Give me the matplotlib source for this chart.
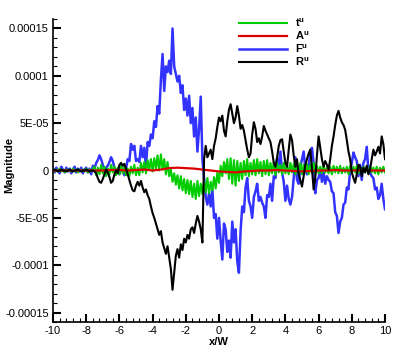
import numpy as np
import matplotlib
matplotlib.use("Agg")
import matplotlib.pyplot as plt
from matplotlib.ticker import MultipleLocator

plt.rcParams['font.family'] = ['Liberation Sans', 'DejaVu Sans']
plt.rcParams['axes.unicode_minus'] = False
plt.rcParams['mathtext.fontset'] = 'custom'
plt.rcParams['mathtext.rm'] = 'Liberation Sans:bold'
plt.rcParams['mathtext.bf'] = 'Liberation Sans:bold'

# values in units of 1e-5, sampled every 0.1 in x/W from -10 to 10
F_u = [0.2, -0.2, 0.3, 0.0, -0.3, 0.4, 0.1, -0.2, 0.3, -0.1,
       0.2, -0.3, 0.1, 0.4, -0.2, 0.2, -0.1, 0.3, -0.3, 0.1,
       0.3, -0.2, 0.2, -0.4, 0.5,
       0.2, 0.8, 1.1, 1.6, 1.2, 0.6, -0.2, 0.3, 0.5, 0.9,
       1.4, 1.0, 0.3, -0.3, 0.2, -0.4, 0.3, 0.1, -0.5, 0.2,
       1.2, 1.0, 2.8, 2.2, 2.6, 1.0, 1.2, 0.9, 2.6, 1.4,
       2.4, 0.4, 3.0, 2.6, 3.8, 3.4, 5.2, 4.6, 6.8, 6.0,
       9.6, 12.3, 8.4, 11.0, 10.4, 11.6, 10.2, 15.0, 11.0, 10.2,
       9.4, 10.0, 8.2, 9.0, 6.4, 7.6, 5.8, 7.9, 5.0, 6.6,
       3.6, 5.6, 2.0, 4.4, 7.8, 1.2, -0.8, -2.8, -3.6, -2.4,
       -3.8, -2.0, -5.0, -4.6, -7.2, -5.0, -7.4, -9.4, -5.6, -6.2,
       -8.6, -7.4, -9.2, -5.4, -7.6, -6.2, -9.6, -10.8, -6.4, -3.8,
       -4.4, -1.8, -0.8, -3.2, -3.8, -5.0, -2.8, -2.2, -1.4, -3.2,
       -2.8, -3.4, -3.8, -5.0, -2.6, -2.8, -1.4, -3.2, -0.6, -0.8,
       1.2, 0.6, 2.0, -0.2, -1.2, -3.2, -1.6, -3.0, -3.6, -2.8,
       -0.8, 1.4, -1.0, -1.4, 0.4, 1.2, 2.0, 0.2, -0.4, 0.4,
       2.0, 2.4, 0.8, -2.4, -1.0, -0.8, 0.2, -1.2, -0.2, -1.4,
       -0.6, -1.0, -1.2, -2.2, -2.4, -4.4, -4.8, -6.6, -5.4, -5.0,
       -3.6, -3.4, -1.8, -2.0, 0.0, 0.8, 1.9, 1.4, 1.0, -0.6,
       0.6, -1.0, 0.8, 1.2, 2.5, 0.0, -0.2, -0.6, -0.8, -2.0,
       -1.8, -3.0, -2.6, -1.4, -3.0, -4.1]

R_u = [0.0, 0.1, 0.0, -0.1, 0.0, 0.1, 0.0, 0.0, -0.1, 0.0,
       0.1, 0.0, -0.1, 0.0, 0.0, 0.1, 0.0, -0.1, 0.0, 0.0,
       0.1, 0.0, -0.1, 0.0, 0.0, -0.1,
       -0.3, -0.8, -1.2, -1.3, -0.9, -0.4, 0.1, -0.2, -0.7, -1.3,
       -1.1, -0.4, 0.0, -0.3, 0.6, 0.8, 0.5, 0.7, 0.2, -0.4,
       -1.0, -1.6, -2.1, -2.2, -1.6, -1.2, -1.6, -1.1, -1.8, -2.3,
       -2.0, -2.6, -3.0, -3.8, -4.5, -5.0, -5.6, -6.2, -6.8, -6.4,
       -7.6, -8.2, -8.8, -8.0, -9.2, -10.4, -12.6, -10.8, -9.0, -8.3,
       -9.2, -7.8, -8.4, -7.2, -7.6, -6.8, -7.2, -6.2, -6.0, -6.6,
       -5.6, -4.8, -5.4, -6.2, -7.6, 1.2, 2.6, 1.4, 1.8, 2.2,
       1.2, 2.6, 3.4, 4.6, 5.6, 5.2, 5.8, 4.2, 3.6, 5.2,
       6.4, 7.0, 6.0, 5.0, 5.6, 6.8, 5.8, 4.4, 4.8, 4.2,
       3.2, 2.2, 1.4, 1.8, 3.8, 5.1, 4.4, 3.0, 3.4, 2.8,
       3.6, 4.7, 4.2, 3.8, 3.4, 3.0, 2.0, 0.8, 0.4, 1.4,
       2.6, 3.2, 3.3, 2.0, 0.8, 0.4, 2.2, 3.8, 3.2, 1.6,
       0.4, 1.2, -0.4, -1.0, -1.7, -0.6, 0.6, 1.2, 1.8, 2.2,
       0.2, -2.0, -0.8, 1.6, 3.6, 2.4, 1.2, 0.4, 1.0, 0.6,
       0.1, 1.2, 2.6, 3.6, 4.8, 5.8, 6.3, 5.6, 5.1, 4.8,
       4.3, 3.2, 2.0, 1.2, -0.2, -0.8, -1.3, -0.4, 0.6, 0.4,
       -0.6, 0.3, -0.2, 0.5, -0.4, 0.1, 1.2, 2.2, 1.6, 2.0,
       2.5, 1.8, 3.6, 2.8, 1.2]

t_u = [0.1, -0.1, 0.1, -0.1, 0.2, -0.1, 0.1, -0.2, 0.1, -0.1,
       0.1, -0.1, 0.2, -0.1, 0.1, -0.2, 0.1, -0.1, 0.1, -0.1,
       0.2, -0.2, 0.1, -0.1, 0.2,
       0.4, -0.5, 0.3, -0.4, 0.6, -0.3, 0.4, -0.6, 0.2, -0.4,
       0.6, -0.2, 0.4, -0.5, 0.3, -0.4, 0.5, -0.3, 0.4, -0.5,
       0.2, -0.6, 0.4, -0.3, 0.6, -0.5, 0.3, -0.5,
       0.8, -0.2, 0.9, -0.3, 1.1, 0.1, 1.2, -0.1, 1.3, 0.2,
       1.6, 0.0, 1.7, 0.1, 1.2, -0.4, 0.9, -0.6,
       0.1, -1.2, -0.3, -1.5, -0.5, -1.9, -0.6, -2.1, -0.9, -2.4,
       -1.0, -2.5, -1.1, -2.8, -1.4, -3.0, -1.1, -2.7, -1.4, -2.5,
       -1.1, -2.3, -0.8, -2.4, -1.2, -2.1, -0.7, -1.9, -0.2, -1.3,
       0.5, -0.6, 0.9, -0.3, 1.2, -0.9, 1.3, -1.4, 1.1, -1.6,
       1.0, -1.1, 0.8, -0.9,
       1.0, -0.5, 1.2, -0.6, 0.8, -0.4, 1.1, -0.5, 1.2, -0.3,
       0.9, -0.6, 1.0, -0.4, 1.1, -0.5, 0.8, -0.3, 0.9, -0.5,
       0.8, -0.2, 0.6, -0.4, 0.8, -0.3, 0.5, -0.4, 0.8, -0.2,
       0.7, -0.4, 0.6, -0.3, 0.8, -0.4, 0.6, -0.2, 0.7, -0.4,
       0.6, -0.3, 0.8, -0.4, 0.5, -0.3,
       0.4, -0.3, 0.5, -0.2, 0.3, -0.3, 0.4, -0.4, 0.5, -0.2,
       0.4, -0.3, 0.5, -0.3, 0.3, -0.2, 0.4, -0.4, 0.5, -0.3,
       0.4, -0.2, 0.5, -0.3, 0.3, -0.3, 0.4, -0.2, 0.4, -0.3,
       0.5, -0.2, 0.3, -0.3, 0.4, -0.4, 0.3, -0.2, 0.4, -0.2]

# A^u sampled every 0.5
A_u = [0.0, 0.0, 0.0, 0.0, 0.0, 0.0, 0.0, 0.05, 0.05, 0.0,
       0.05, 0.1, 0.0, 0.1, 0.25, 0.3, 0.25, 0.2, 0.1, 0.0,
       -0.1, -0.15, -0.2, -0.1, -0.05, 0.0, 0.0, 0.05, 0.0, -0.05,
       -0.1, -0.05, 0.0, 0.0, 0.05, 0.0, 0.0, 0.0, 0.0, 0.0, 0.0]

assert len(F_u) == len(R_u) == len(t_u) == 201
assert len(A_u) == 41

x_fine = np.linspace(-10, 10, len(F_u))
x_coarse = np.linspace(-10, 10, len(A_u))
scale = 1e-5

y_ticks = [-0.00015, -0.0001, -5e-05, 0, 5e-05, 0.0001, 0.00015]
y_ticklabels = ['-0.00015', '-0.0001', '-5E-05', '0', '5E-05', '0.0001', '0.00015']

fig = plt.figure(figsize=(4.07, 3.62), dpi=100)
ax = fig.add_axes([53 / 407, 40 / 362, 332 / 407, 303 / 362])

ax.plot(x_fine, np.array(F_u) * scale, color='#3333ff', lw=1.8, zorder=2, label=r'$\mathrm{F}^{\mathrm{u}}$')
ax.plot(x_fine, np.array(t_u) * scale, color='#00cc00', lw=1.5, zorder=3, label=r'$\mathrm{t}^{\mathrm{u}}$')
ax.plot(x_coarse, np.array(A_u) * scale, color='#dd0000', lw=1.6, zorder=4, label=r'$\mathrm{A}^{\mathrm{u}}$')
ax.plot(x_fine, np.array(R_u) * scale, color='black', lw=1.5, zorder=5, label=r'$\mathrm{R}^{\mathrm{u}}$')

ax.set_xlim(-10, 10)
ax.set_ylim(-0.00016, 0.00016)
ax.set_xticks(range(-10, 11, 2))
ax.xaxis.set_minor_locator(MultipleLocator(0.4))
ax.set_yticks(y_ticks)
ax.set_yticklabels(y_ticklabels)
ax.yaxis.set_minor_locator(MultipleLocator(1e-5))

ax.spines['top'].set_visible(False)
ax.spines['right'].set_visible(False)
ax.spines['left'].set_linewidth(1.2)
ax.spines['bottom'].set_linewidth(1.2)
ax.tick_params(which='major', direction='in', length=5.5, width=1.5, labelsize=8, pad=3)
ax.tick_params(which='minor', direction='in', length=2.8, width=0.8)

ax.set_xlabel('x/W', fontsize=8, fontweight='bold')
ax.xaxis.set_label_coords(0.5, -0.05)
ax.set_ylabel('Magnitude', fontsize=8, fontweight='bold')
ax.yaxis.set_label_coords(-0.118, 0.518)

handles, labels = ax.get_legend_handles_labels()
order = [1, 2, 0, 3]
ax.legend([handles[i] for i in order], [labels[i] for i in order],
          loc='upper left', bbox_to_anchor=(233 / 407, 1 - 11 / 362),
          bbox_transform=fig.transFigure, frameon=False, fontsize=8,
          handlelength=4.4, handletextpad=0.7, labelspacing=0.05, borderpad=0)

fig.savefig('out.png', dpi=100)
